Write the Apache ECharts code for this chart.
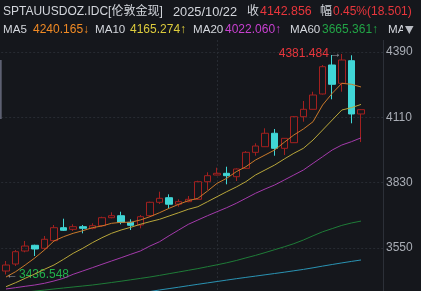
<!DOCTYPE html>
<html><head><meta charset="utf-8">
<script src="https://cdn.jsdelivr.net/npm/echarts@6/dist/echarts.min.js"></script>
<style>html,body{margin:0;padding:0;background:#15171c;overflow:hidden}#c{width:421px;height:291px}</style>
</head><body><div id="c"></div>
<script>
// ---------- data ----------
const symbolName = 'SPTAUUSDOZ.IDC[伦敦金现]';
const dates = ['2025/09/01','2025/09/02','2025/09/03','2025/09/04','2025/09/05','2025/09/08','2025/09/09','2025/09/10','2025/09/11','2025/09/12',
  '2025/09/15','2025/09/16','2025/09/17','2025/09/18','2025/09/19','2025/09/22','2025/09/23','2025/09/24','2025/09/25','2025/09/26',
  '2025/09/29','2025/09/30','2025/10/01','2025/10/02','2025/10/03','2025/10/06','2025/10/07','2025/10/08','2025/10/09','2025/10/10',
  '2025/10/13','2025/10/14','2025/10/15','2025/10/16','2025/10/17','2025/10/20','2025/10/21','2025/10/22'];
const opens = [3451.4,3481.4,3537.1,3561.6,3548.7,3581.3,3637.0,3630.1,3641.3,3634.4,
  3645.6,3679.9,3688.4,3660.2,3648.6,3688.4,3745.9,3765.6,3737.6,3748.6,
  3758.7,3834.2,3862.9,3870.1,3855.6,3891.4,3960.0,3984.1,4041.7,3977.1,
  4001.3,4112.7,4144.4,4210.0,4334.3,4255.9,4352.7,4124.355];
const closes = [3477.1,3534.1,3558.4,3545.7,3587.3,3637.0,3625.8,3641.3,3634.4,3645.6,
  3679.9,3688.4,3660.2,3647.3,3684.1,3745.9,3763.0,3737.6,3748.6,3758.7,
  3834.2,3859.9,3870.1,3859.9,3888.6,3960.0,3987.1,4041.7,3977.1,4020.0,
  4112.7,4144.4,4205.7,4327.0,4251.6,4355.7,4124.355,4142.856];
const lows = [3436.548,3472.9,3531.6,3515.7,3541.4,3577.0,3622.9,3622.9,3612.9,3630.1,
  3641.3,3677.3,3651.6,3627.1,3634.4,3684.1,3738.6,3720.0,3727.0,3745.9,
  3755.7,3798.6,3861.6,3822.9,3837.1,3888.6,3945.6,3982.9,3945.6,3948.6,
  4000.0,4091.3,4143.6,4208.0,4187.3,4219.9,4084.4,4004.0];
const highs = [3494.3,3541.4,3580.0,3564.1,3601.4,3648.6,3675.6,3651.6,3648.6,3655.9,
  3684.1,3703.0,3705.6,3672.9,3691.4,3748.4,3791.3,3780.0,3758.7,3772.9,
  3838.4,3874.4,3894.1,3898.4,3891.4,3965.6,3998.7,4063.0,4060.0,4021.0,
  4115.7,4180.0,4219.7,4334.3,4377.1,4381.484,4376.0,4145.0];
const ma5 = [3425.7,3448.4,3477.1,3507.2,3541.4,3580.0,3598.4,3613.0,3624.1,3637.0,
  3644.3,3655.8,3660.1,3660.1,3670.0,3684.1,3701.3,3720.0,3737.2,3752.7,
  3762.9,3794.2,3827.2,3848.7,3877.0,3898.4,3927.1,3948.6,3970.0,4003.0,
  4034.3,4060.0,4091.3,4162.9,4213.0,4255.9,4251.6,4240.165];
const ma10 = [3384.2,3401.3,3420.1,3438.4,3458.6,3477.1,3501.5,3527.2,3548.7,3572.7,
  3594.1,3612.9,3627.1,3638.7,3651.6,3662.7,3673.0,3687.2,3701.3,3715.9,
  3727.0,3748.4,3769.9,3791.3,3811.4,3834.2,3862.9,3884.3,3905.7,3931.4,
  3955.9,3977.3,4012.9,4055.7,4098.6,4141.4,4151.3,4165.274];
const ma20 = [3374.3,3379.9,3385.9,3391.4,3398.7,3408.6,3420.1,3437.3,3451.4,3465.6,
  3480.1,3494.3,3508.4,3523.0,3537.1,3558.4,3576.9,3602.6,3627.1,3651.5,
  3670.0,3688.4,3705.6,3722.7,3741.6,3763.0,3784.4,3802.9,3820.0,3841.4,
  3862.9,3884.3,3913.0,3941.3,3970.0,3991.4,4005.6,4022.060];
const ma60 = [3352.9,3356.3,3360.6,3365.3,3369.6,3374.3,3378.6,3382.9,3387.1,3391.4,
  3396.6,3402.1,3407.7,3413.7,3419.7,3425.7,3432.6,3439.9,3447.1,3454.4,
  3461.7,3469.9,3478.0,3486.6,3496.4,3507.6,3518.3,3530.3,3542.7,3555.2,
  3568.5,3584.3,3602.3,3619.5,3633.2,3646.9,3657.2,3665.361];
const ma120 = [3271.4,3277.9,3284.3,3290.3,3296.3,3302.3,3308.7,3314.7,3320.7,3326.7,
  3333.1,3339.1,3345.1,3351.6,3357.6,3363.6,3370.0,3376.0,3382.0,3388.4,
  3394.4,3400.4,3406.4,3412.4,3418.4,3424.0,3429.5,3435.1,3440.7,3446.3,
  3452.3,3458.3,3465.1,3472.4,3479.3,3486.1,3492.5,3498.6];
const yMin = 3270, yMax = 4390, yStep = 280;
const monthStart = '2025/10/01';
const maNames = ['MA5','MA10','MA20','MA60','MA120'];

// ---------- styles ----------
const BG = '#15171c';
const FONT = "'Liberation Sans', Arial, 'Noto Sans CJK SC', sans-serif";
const RED = '#e8363c', CYAN = '#40d6d6', UPLINE = '#a3201f';
const maColors = ['#c9792a','#b8a63a','#a43aab','#1f7c38','#2a93b3'];
const maTextColors = ['#f08a24','#dccb3c','#c740cf','#22a446',''];
const TXT = '#d3d6dc';

const cats = dates.concat(['', '']);
const candles = dates.map((d, i) => [opens[i], closes[i], lows[i], highs[i]]);
const n = dates.length;
const hiIdx = highs.indexOf(Math.max(...highs));
const loIdx = lows.indexOf(Math.min(...lows));

const chart = echarts.init(document.getElementById('c'), null, {renderer: 'canvas', width: 421, height: 291});

const maArr = [ma5, ma10, ma20, ma60, ma120];
const series = [{
  type: 'candlestick', data: candles, barWidth: 7,
  itemStyle: {color: 'transparent', color0: CYAN, borderColor: UPLINE, borderColor0: CYAN, borderWidth: 1},
  markPoint: {
    symbol: 'circle', symbolSize: 0, silent: true, animation: false,
    data: [
      {coord: [hiIdx, highs[hiIdx]], label: {show: true, position: 'left', distance: 0,
        formatter: '{v|' + highs[hiIdx].toFixed(3) + '}{a|→}',
        rich: {v: {color: RED, fontSize: 12, fontFamily: FONT}, a: {color: '#9a9da5', fontSize: 12, fontFamily: FONT, padding: [0,0,0,1]}}}},
      {coord: [loIdx, lows[loIdx]], label: {show: true, position: 'right', distance: 0,
        formatter: '{a|←}{v|' + lows[loIdx].toFixed(3) + '}',
        rich: {v: {color: '#22b24c', fontSize: 12, fontFamily: FONT}, a: {color: '#9a9da5', fontSize: 12, fontFamily: FONT, padding: [0,1,0,0]}}}}
    ]
  }
}];
maArr.forEach((arr, k) => series.push({
  type: 'line', data: arr, name: maNames[k], showSymbol: false, symbol: 'none', smooth: false,
  lineStyle: {width: 1, color: maColors[k]}, z: 3 + (5 - k), animation: false
}));

chart.setOption({
  backgroundColor: BG,
  animation: false,
  grid: {left: 1.2, right: 36, top: 52, height: 261.33, outerBoundsMode: 'none', containLabel: false},
  xAxis: {type: 'category', data: cats, boundaryGap: true,
    axisLine: {show: false}, axisTick: {show: false}, axisLabel: {show: false}, splitLine: {show: false}},
  yAxis: {type: 'value', position: 'right', min: yMin, max: yMax, interval: yStep,
    axisLine: {show: false}, axisTick: {show: false},
    axisLabel: {color: '#a9adb5', fontSize: 12, fontFamily: FONT, margin: 1, showMinLabel: false,
      formatter: v => String(v)},
    splitLine: {lineStyle: {color: '#272b32', type: [2, 2], width: 1}}},
  series: series
});

// ---------- header + separators ----------
const change = closes[n - 1] - closes[n - 2];
const pct = change / closes[n - 2] * 100;
const sign = change >= 0 ? '' : '-';
function t(text, x, y, color, size) {
  return {type: 'text', silent: true, z: 100, style: {text: text, x: x, y: y, fill: color, fontSize: size || 12, fontFamily: FONT, verticalAlign: 'middle'}};
}
const g = [];
const monthX = chart.convertToPixel({xAxisIndex: 0}, monthStart);
g.push({type: 'line', silent: true, shape: {x1: Math.round(monthX) + 0.5, y1: 40, x2: Math.round(monthX) + 0.5, y2: 291}, style: {stroke: '#272b32', lineWidth: 1, lineDash: [2, 2]}});
g.push({type: 'line', silent: true, shape: {x1: 383.5, y1: 40, x2: 383.5, y2: 291}, style: {stroke: '#2c3038', lineWidth: 1}});
g.push({type: 'rect', silent: true, shape: {x: 0, y: 60, width: 1.7, height: 59}, style: {fill: '#5d6072'}});
const y1 = 12, y2 = 30;
g.push(t(symbolName, 3, y1, TXT));
g.push(t(dates[n - 1], 173, y1, TXT, 12.8));
g.push(t('收', 247, y1, TXT));
g.push(t(closes[n - 1].toFixed(3), 260, y1, RED, 12.4));
g.push(t('幅', 320, y1, TXT));
g.push(t(sign + Math.abs(pct).toFixed(2) + '%(' + Math.abs(change).toFixed(3) + ')', 333, y1, RED));
const row2x = [[3, 33], [95, 130], [193, 225], [290, 322]];
for (let k = 0; k < 4; k++) {
  const arr = maArr[k];
  const arrow = arr[n - 1] >= arr[n - 2] ? '↑' : '↓';
  g.push(t(maNames[k], row2x[k][0], y2, TXT, 11.6));
  g.push(t(arr[n - 1].toFixed(3) + arrow, row2x[k][1], y2, maTextColors[k]));
}
g.push(t(maNames[4], 388, y2, TXT, 11.6));
g.push({type: 'rect', silent: true, z: 101, shape: {x: 403, y: 21, width: 18, height: 18}, style: {fill: BG}});
g.push({type: 'polygon', silent: true, z: 102, shape: {points: [[405, 26], [413.5, 26], [409.25, 34]]}, style: {fill: '#b9bcc3'}});
chart.setOption({graphic: g});
</script>
</body></html>
